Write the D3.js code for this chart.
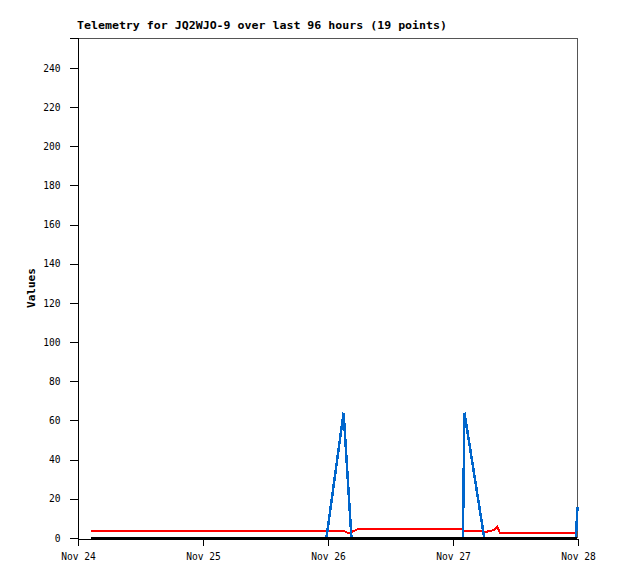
<!DOCTYPE html>
<html>
<head>
<meta charset="utf-8">
<script src="https://cdn.jsdelivr.net/npm/d3@7"></script>
<style>
  html, body { margin: 0; padding: 0; background: #fff; }
  svg { display: block; }
  text { font-family: "DejaVu Sans Mono", "Liberation Mono", monospace; }
</style>
</head>
<body>
<svg id="chart" width="618" height="579"></svg>
<script>
// ---- data (hours after Nov 24 00:00) ----
const titleText = "Telemetry for JQ2WJO-9 over last 96 hours (19 points)";
const yLabel = "Values";
const xTickLabels = ["Nov 24", "Nov 25", "Nov 26", "Nov 27", "Nov 28"];
const yTickValues = [0, 20, 40, 60, 80, 100, 120, 140, 160, 180, 200, 220, 240];

const redHours  = [2.4, 51.0, 51.9, 54.0, 73.9, 74.1, 77.7, 78.0, 80.0, 80.5, 81.0, 95.6];
const redValues = [3.7, 3.7, 2.4, 4.8, 4.8, 3.7, 3.7, 2.9, 4.2, 5.8, 2.6, 2.6];

const blueHours  = [2.4, 47.7, 51.0, 52.5, 73.9, 74.2, 78.0, 95.6, 95.9];
const blueValues = [0, 0, 64, 0, 0, 64, 0, 0, 16];

const blackHours  = [2.4, 95.9];
const blackValues = [0, 0];

// ---- layout ----
const svg = d3.select("#chart");
const L = 78, R = 578, T = 38, B = 538;
const t0 = new Date(2024, 10, 24, 0, 0, 0);
const toDate = h => new Date(t0.getTime() + h * 3600 * 1000);

const x = d3.scaleTime().domain([t0, toDate(96)]).range([L, R]);
const y = d3.scaleLinear().domain([0, 255.3]).range([B, T]);

// frame: top & right grey
svg.append("path")
  .attr("d", `M${L},${T + 0.5}H${R - 0.5}V${B}`)
  .attr("fill", "none").attr("stroke", "#555").attr("stroke-width", 1)
  .attr("shape-rendering", "crispEdges");

// y axis
const yAxis = d3.axisLeft(y).tickValues(yTickValues).tickSize(8).tickPadding(9);
const gy = svg.append("g").attr("transform", `translate(${L - 0.5},0)`).call(yAxis);
gy.select(".domain").attr("stroke", "#000").attr("shape-rendering", "crispEdges");
gy.selectAll(".tick line").attr("stroke", "#000").attr("shape-rendering", "crispEdges");
gy.selectAll(".tick text").attr("font-family", "DejaVu Sans Mono").attr("font-size", 9.6).attr("fill", "#000");

// x axis
const xTicks = xTickLabels.map((d, i) => toDate(i * 24));
const xAxis = d3.axisBottom(x).tickValues(xTicks).tickSize(7).tickPadding(8)
  .tickFormat((d, i) => xTickLabels[i]);
const gx = svg.append("g").attr("transform", `translate(0,${B + 0.5})`).call(xAxis);
gx.select(".domain").attr("stroke", "#000").attr("shape-rendering", "crispEdges");
gx.selectAll(".tick line").attr("stroke", "#000").attr("shape-rendering", "crispEdges");
gx.selectAll(".tick text").attr("font-family", "DejaVu Sans Mono").attr("font-size", 9.6).attr("fill", "#000");

// series
const line = d3.line().x(d => x(toDate(d[0]))).y(d => y(d[1]));
function series(hours, vals, color, w) {
  svg.append("path")
    .datum(hours.map((h, i) => [h, vals[i]]))
    .attr("d", line)
    .attr("fill", "none")
    .attr("stroke", color)
    .attr("stroke-width", w)
    .attr("stroke-linejoin", "miter")
    .attr("shape-rendering", "crispEdges");
}
series(redHours, redValues, "#ff0000", 2);
series(blueHours, blueValues, "#0066cc", 2.5);
series(blackHours, blackValues, "#000000", 2);

// title
svg.append("text")
  .attr("x", 77).attr("y", 29)
  .attr("font-size", 11).attr("font-weight", "bold")
  .attr("textLength", 370).attr("lengthAdjust", "spacingAndGlyphs")
  .text(titleText);

// y label
svg.append("text")
  .attr("transform", `translate(35,${(T + B) / 2}) rotate(-90)`)
  .attr("text-anchor", "middle")
  .attr("font-size", 11).attr("font-weight", "bold")
  .text(yLabel);
</script>
</body>
</html>
